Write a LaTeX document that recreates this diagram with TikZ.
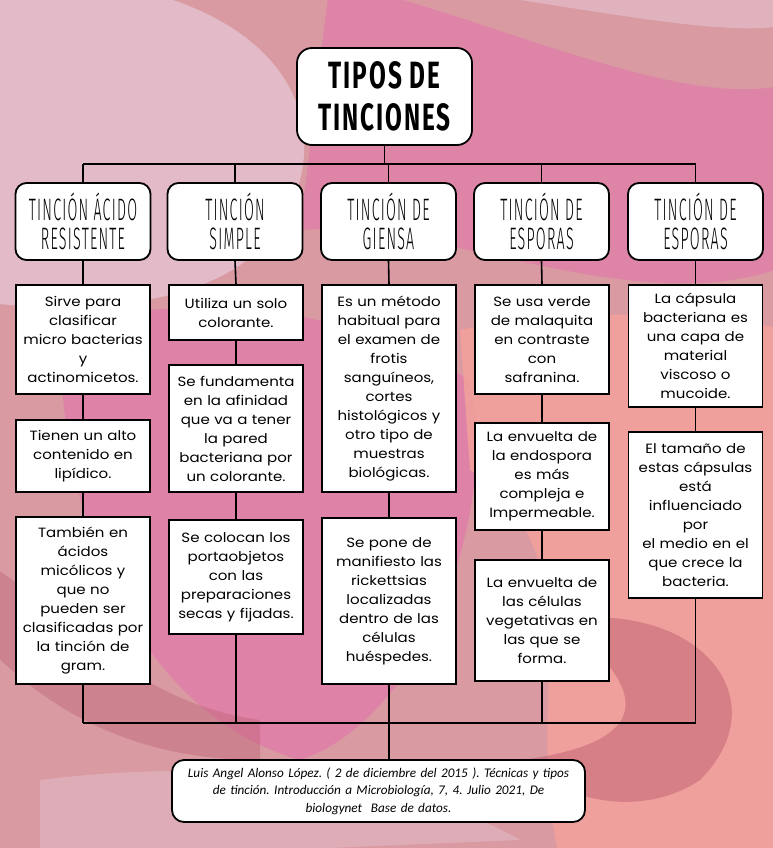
\documentclass[tikz,border=0pt]{standalone}
\usepackage{fontspec}
\setmainfont{Poppins}[FakeStretch=1.12]
\newfontfamily\hand[FakeStretch=0.46, LetterSpace=4, UprightFont={* Light}]{Fira Sans}
\newfontfamily\handt[FakeStretch=0.64, LetterSpace=5]{Fira Sans}
\newfontfamily\refont{Carlito}
\usetikzlibrary{calc}
\definecolor{bgbase}{HTML}{D99AA2}
\definecolor{bglight}{HTML}{E6C3D2}
\definecolor{bghot}{HTML}{E17CA9}
\definecolor{bgsalmon}{HTML}{F3A19B}
\definecolor{bgdark}{HTML}{B85A6C}
\tikzset{
  catbox/.style={draw=black, line width=1.8pt, rounded corners=11pt, fill=white,
    minimum width=135pt, minimum height=77pt, align=center, inner sep=2pt,
    font=\hand\fontsize{31}{29}\selectfont},
  infobox/.style={draw=black, line width=1.8pt, fill=white, minimum width=134pt,
    text width=130pt, align=center, inner sep=2pt,
    font=\fontsize{13.4}{19}\selectfont},
  link/.style={draw=black, line width=1.6pt},
}
\frenchspacing
\begin{document}
\begin{tikzpicture}[x=1pt,y=-1pt]
\useasboundingbox (0,0) rectangle (773,848);
% background
\fill[bgbase] (0,0) rectangle (773,848);
\begin{scope}
\clip (0,0) rectangle (773,848);
\fill[bglight,opacity=0.8] (-40,-20) .. controls (200,-40) and (330,60) .. (300,180) .. controls (270,300) and (120,320) .. (-40,300) -- cycle;
\fill[bghot,opacity=0.7] (330,-20) .. controls (500,20) and (700,120) .. (800,80) -- (800,260) .. controls (650,330) and (450,220) .. (300,230) -- cycle;
\fill[bglight,opacity=0.6] (520,0) .. controls (650,20) and (760,40) .. (800,20) -- (800,-10) -- (520,-10) -- cycle;
\fill[bghot,opacity=0.75] (60,330) .. controls (180,290) and (330,300) .. (470,380) .. controls (500,520) and (420,720) .. (300,760) .. controls (160,720) and (60,560) .. cycle;
\fill[bgsalmon,opacity=0.85] (460,330) .. controls (600,300) and (800,320) .. (800,340) -- (800,860) -- (560,860) .. controls (520,700) and (600,560) .. (470,470) -- cycle;
\fill[bgdark,opacity=0.45] (560,620) .. controls (700,600) and (780,700) .. (700,780) .. controls (640,820) and (560,800) .. (520,760) .. controls (600,750) and (690,720) .. cycle;
\fill[bgdark,opacity=0.35] (-20,560) .. controls (60,600) and (120,700) .. (260,720) -- (260,760) .. controls (100,760) and (20,680) .. (-20,640) -- cycle;
\fill[bglight,opacity=0.45] (40,780) .. controls (200,760) and (400,770) .. (520,840) -- (40,860) -- cycle;
\end{scope}
% title
\node[draw=black, line width=1.8pt, rounded corners=15pt, fill=white, minimum width=175pt,
  minimum height=97pt, align=center, inner sep=2pt, font=\handt\bfseries\fontsize{38}{42}\selectfont]
  (title) at (384.5,96.5) {TIPOS DE\\TINCIONES};
% categories
\node[catbox] (c1) at (83,221.5) {TINCIÓN ÁCIDO\\RESISTENTE};
\node[catbox] (c2) at (235,221.5) {TINCIÓN\\SIMPLE};
\node[catbox] (c3) at (388.5,221.5) {TINCIÓN DE\\GIENSA};
\node[catbox] (c4) at (541.5,221.5) {TINCIÓN DE\\ESPORAS};
\node[catbox] (c5) at (695.5,221.5) {TINCIÓN DE\\ESPORAS};
% info boxes
\node[infobox, minimum height=109pt] (a1) at (83,339.5) {Sirve para\\clasificar\\micro bacterias\\y\\actinomicetos.};
\node[infobox, minimum height=72pt] (a2) at (83,456) {Tienen un alto\\contenido en\\lipídico.};
\node[infobox, minimum height=167pt] (a3) at (83,600.5) {También en\\ácidos\\micólicos y\\que no\\pueden ser\\clasificadas por\\la tinción de\\gram.};
\node[infobox, minimum height=55pt] (b1) at (236,312.5) {Utiliza un solo\\colorante.};
\node[infobox, minimum height=127pt] (b2) at (236,428.5) {Se fundamenta\\en la afinidad\\que va a tener\\la pared\\bacteriana por\\un colorante.};
\node[infobox, minimum height=114pt] (b3) at (236,577) {Se colocan los\\portaobjetos\\con las\\preparaciones\\secas y fijadas.};
\node[infobox, minimum height=207pt] (d1) at (389,388.5) {Es un método\\habitual para\\el examen de\\frotis\\sanguíneos,\\cortes\\histológicos y\\otro tipo de\\muestras\\biológicas.};
\node[infobox, minimum height=166pt] (d2) at (389,601) {Se pone de\\manifiesto las\\rickettsias\\localizadas\\dentro de las\\células\\huéspedes.};
\node[infobox, minimum height=109pt] (e1) at (542,339.5) {Se usa verde\\de malaquita\\en contraste\\con\\safranina.};
\node[infobox, minimum height=107pt] (e2) at (542,476.5) {La envuelta de\\la endospora\\es más\\compleja e\\Impermeable.};
\node[infobox, minimum height=121pt] (e3) at (542,620.5) {La envuelta de\\las células\\vegetativas en\\las que se\\forma.};
\node[infobox, minimum height=122pt] (f1) at (695.5,346) {La cápsula\\bacteriana es\\una capa de\\material\\viscoso o\\mucoide.};
\node[infobox, minimum height=166pt] (f2) at (695.5,515) {El tamaño de\\estas cápsulas\\está\\influenciado\\por\\el medio en el\\que crece la\\bacteria.};
% reference
\node[draw=black, line width=1.8pt, rounded corners=12pt, fill=white, minimum width=413pt,
  minimum height=62pt, text width=408pt, align=center, inner sep=2pt,
  font=\refont\itshape\fontsize{13.2}{17.5}\selectfont]
  (ref) at (378.5,791) {Luis Angel Alonso López. ( 2 de diciembre del 2015 ). Técnicas y tipos\\de tinción. Introducción a Microbiología, 7, 4. Julio 2021, De\\biologynet\ \ Base de datos.};
% top connectors
\coordinate (tj) at ($(title.south)+(0,18)$);
\coordinate (h1) at (c1.north |- tj);
\coordinate (h5) at (c5.north |- tj);
\draw[link] (title.south) -- (tj);
\draw[link] (h1) -- (h5);
\foreach \c in {c1,c2,c3,c4,c5} \draw[link] (\c.north |- tj) -- (\c.north);
% column connectors
\draw[link] (c1.south) -- (a1.north);
\draw[link] (a1.south) -- (a2.north);
\draw[link] (a2.south) -- (a3.north);
\draw[link] (c2.south) -- (b1.north);
\draw[link] (b1.south) -- (b2.north);
\draw[link] (b2.south) -- (b3.north);
\draw[link] (c3.south) -- (d1.north);
\draw[link] (d1.south) -- (d2.north);
\draw[link] (c4.south) -- (e1.north);
\draw[link] (e1.south) -- (e2.north);
\draw[link] (e2.south) -- (e3.north);
\draw[link] (c5.south) -- (f1.north);
\draw[link] (f1.south) -- (f2.north);
% bottom bus
\coordinate (by) at (0,723);
\coordinate (b1x) at (a3.south |- by);
\coordinate (b5x) at (f2.south |- by);
\coordinate (bm) at (d2.south |- by);
\draw[link] (b1x) -- (b5x);
\draw[link] (a3.south) -- (b1x);
\draw[link] (b3.south) -- (b3.south |- by);
\draw[link] (d2.south) -- (bm);
\draw[link] (e3.south) -- (e3.south |- by);
\draw[link] (f2.south) -- (b5x);
\draw[link] (bm) -- (ref.north -| bm);
\end{tikzpicture}
\end{document}
